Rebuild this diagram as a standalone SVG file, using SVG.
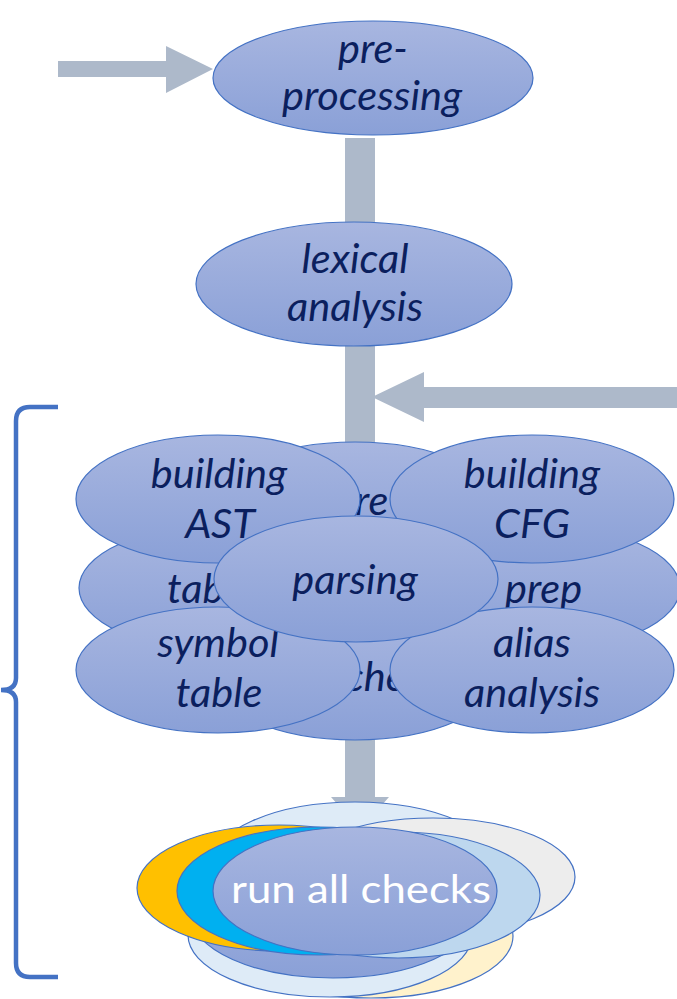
<svg xmlns="http://www.w3.org/2000/svg" width="677" height="999" viewBox="0 0 677 999">
<defs>
  <linearGradient id="fillGrad" x1="0" y1="0" x2="0" y2="1">
    <stop offset="0" stop-color="#A8B6E0"/>
    <stop offset="1" stop-color="#8AA0D7"/>
  </linearGradient>
</defs>
<style>
  .node { fill: url(#fillGrad); stroke: #4472C4; stroke-width: 1.2; }
  .plain { stroke: #4472C4; stroke-width: 1.2; }
  .lbl { font-family: Lato, "Liberation Sans", sans-serif; font-style: italic; font-size: 41.5px; fill: #0B1F5E; text-anchor: middle; }
  .lbls { font-family: Lato, "Liberation Sans", sans-serif; font-style: italic; font-size: 41.5px; fill: #0B1F5E; }
  .arrow { fill: #ADB9CA; }
  .bracket { fill: none; stroke: #4472C4; stroke-width: 4.5; }
  .white { font-family: Lato, "Liberation Sans", sans-serif; font-size: 39px; fill: #FFFFFF; text-anchor: middle; }
</style>
<rect width="677" height="999" fill="#FFFFFF"/>

<g id="connectors">
  <polygon class="arrow" points="58,61 166,61 166,46 213,69 166,93 166,77 58,77"/>
  <polygon class="arrow" points="345,138 375,138 375,797 389,797 360,830 331,797 345,797"/>
  <polygon class="arrow" points="677,387 424,387 424,372 372,397 424,422 424,408 677,408"/>
  <path class="bracket" d="M58,407 H30 Q16,407 16,421 V678 Q16,690 1,690 Q16,690 16,702 V963 Q16,977 30,977 H58"/>
</g>

<g id="preprocessing">
  <ellipse class="node" cx="373" cy="78" rx="160" ry="57"/>
  <text class="lbl" x="373" y="63">pre-</text>
  <text class="lbl" x="372" y="110">processing</text>
</g>

<g id="lexical">
  <ellipse class="node" cx="354" cy="284" rx="158" ry="62"/>
  <text class="lbl" x="355" y="273">lexical</text>
  <text class="lbl" x="355" y="321">analysis</text>
</g>

<g id="hidden-top">
  <ellipse class="node" cx="355" cy="505" rx="142" ry="63"/>
  <text class="lbls" x="355" y="515">re</text>
</g>
<g id="hidden-bottom">
  <ellipse class="node" cx="355" cy="677" rx="142" ry="63"/>
  <text class="lbls" x="345" y="691">che</text>
</g>
<g id="hidden-left">
  <ellipse class="node" cx="221" cy="588" rx="142" ry="63"/>
  <text class="lbls" x="167" y="603">tab</text>
</g>
<g id="hidden-right">
  <ellipse class="node" cx="538" cy="588" rx="142" ry="63"/>
  <text class="lbls" x="505" y="603">prep</text>
</g>

<g id="building-ast">
  <ellipse class="node" cx="218" cy="499" rx="142" ry="64"/>
  <text class="lbl" x="219" y="488">building</text>
  <text class="lbl" x="220" y="538">AST</text>
</g>
<g id="building-cfg">
  <ellipse class="node" cx="532" cy="499" rx="142" ry="64"/>
  <text class="lbl" x="532" y="488">building</text>
  <text class="lbl" x="532" y="538">CFG</text>
</g>
<g id="symbol-table">
  <ellipse class="node" cx="218" cy="670" rx="142" ry="63"/>
  <text class="lbl" x="218" y="657">symbol</text>
  <text class="lbl" x="219" y="707">table</text>
</g>
<g id="alias-analysis">
  <ellipse class="node" cx="532" cy="670" rx="142" ry="63"/>
  <text class="lbl" x="532" y="657">alias</text>
  <text class="lbl" x="532" y="707">analysis</text>
</g>
<g id="parsing">
  <ellipse class="node" cx="356" cy="579" rx="142" ry="63"/>
  <text class="lbl" x="355" y="594">parsing</text>
</g>

<g id="checks-stack">
  <ellipse class="plain" fill="#DEEBF7" cx="355" cy="866" rx="145" ry="64"/>
  <ellipse class="plain" fill="#FFF2CC" cx="371" cy="936" rx="142" ry="62"/>
  <ellipse class="plain" fill="#DEEBF7" cx="330" cy="935" rx="142" ry="62"/>
  <ellipse class="node" cx="333" cy="915" rx="142" ry="63"/>
  <ellipse class="plain" fill="#EDEDED" cx="433" cy="877" rx="142" ry="59"/>
  <ellipse class="plain" fill="#BDD7EE" cx="398" cy="895" rx="142" ry="63"/>
  <ellipse class="plain" fill="#FFC000" cx="279" cy="888" rx="142" ry="63"/>
  <ellipse class="plain" fill="#00B0F0" cx="319" cy="891" rx="142" ry="64"/>
</g>
<g id="run-all-checks">
  <ellipse class="node" cx="355" cy="891" rx="142" ry="64"/>
  <text class="white" x="361" y="903" textLength="260" lengthAdjust="spacingAndGlyphs">run all checks</text>
</g>
</svg>
